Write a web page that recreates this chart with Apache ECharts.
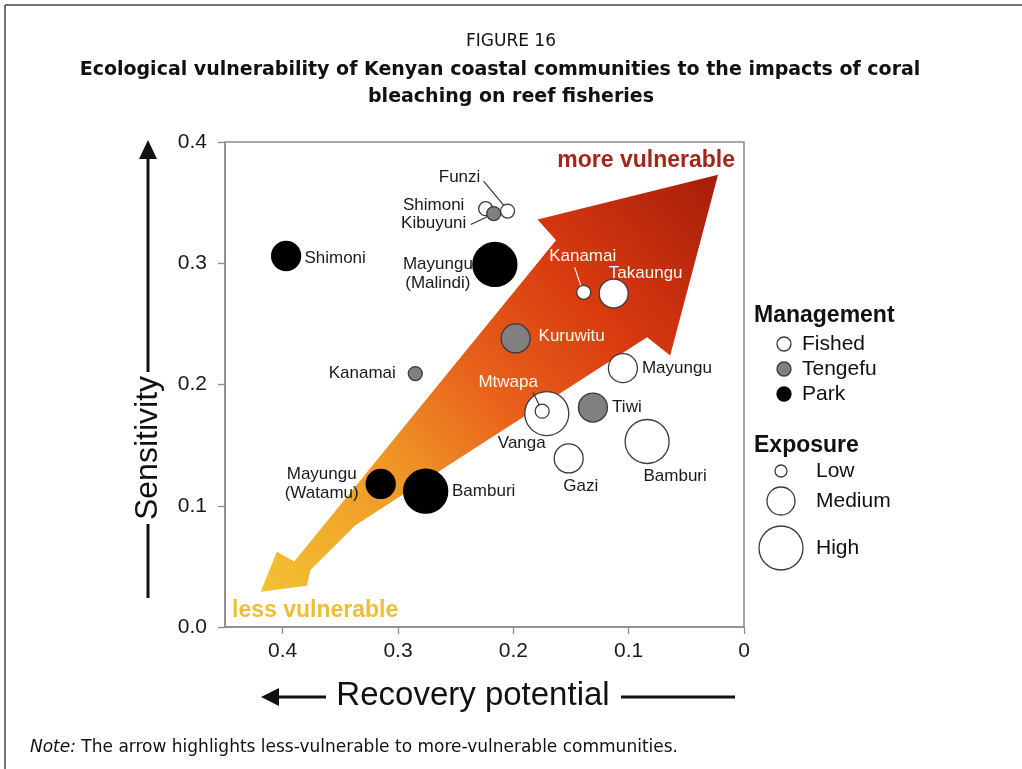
<!DOCTYPE html>
<html>
<head>
<meta charset="utf-8">
<title>Figure 16</title>
<script src="https://cdn.jsdelivr.net/npm/echarts@6/dist/echarts.min.js"></script>
<style>
  html, body { margin: 0; padding: 0; background: #fff; }
  #chart { width: 1022px; height: 769px; }
</style>
</head>
<body>
<div id="chart"></div>
<script>
// sites
const siteNames = ["Shimoni", "Mayungu\n(Malindi)", "Shimoni", "Kibuyuni", "Funzi", "Kanamai", "Takaungu",
  "Kuruwitu", "Kanamai", "Mayungu", "Vanga", "Mtwapa", "Tiwi", "Gazi", "Bamburi", "Bamburi", "Mayungu\n(Watamu)"];
const recovery = [0.397, 0.216, 0.224, 0.217, 0.205, 0.139, 0.113, 0.198, 0.285, 0.105, 0.171, 0.175, 0.131, 0.152, 0.084, 0.276, 0.315];
const sensitivity = [0.306, 0.299, 0.345, 0.341, 0.343, 0.276, 0.275, 0.238, 0.209, 0.2135, 0.176, 0.178, 0.181, 0.139, 0.153, 0.112, 0.118];
const management = ["Park", "Park", "Fished", "Tengefu", "Fished", "Fished", "Fished", "Tengefu", "Tengefu", "Fished",
  "Fished", "Fished", "Tengefu", "Fished", "Fished", "Park", "Park"];
const exposure = ["Medium", "High", "Low", "Low", "Low", "Low", "Medium", "Medium", "Low", "Medium",
  "High", "Low", "Medium", "Medium", "High", "High", "Medium"];

const xTicks = [0.4, 0.3, 0.2, 0.1, 0];

// arrow outline in data units (recovery, sensitivity)
const arrowShape = [
  [0.419, 0.029], [0.405, 0.062], [0.390, 0.054], [0.163, 0.319], [0.179, 0.336],
  [0.0225, 0.373], [0.064, 0.224], [0.084, 0.239], [0.337, 0.084], [0.376, 0.047], [0.379, 0.034]
];

// label placement (pixel offset of label centre from point centre)
const labelOffsets = [[49, 2], [-57, 9], [-52, -3], [-60, 10], [-48, -34], [-1, -36], [32, -20],
  [56, -2], [-53, 0], [54, 0], [-25, 30], [-34, -29], [34, 0], [12, 28], [28, 35], [58, 0], [-59, 0]];
const whiteLabels = [5, 6, 7, 11];
// leader lines: [site index, from offset, to offset, colour]
const leaders = [
  [4, [-24, -30], [-4, -6], "#333"],
  [3, [-23, 11], [-6, 3], "#333"],
  [5, [-9, -25], [-3, -7], "#fff"],
  [11, [-9, -19], [-3, -6], "#333"]
];

const sizeByExposure = { Low: 14, Medium: 29, High: 44 };
const fillByManagement = { Fished: "#ffffff", Tengefu: "#808080", Park: "#000000" };

const FONT = "'Liberation Sans', Arial, sans-serif";
const TITLE_FONT = "'DejaVu Sans', 'Noto Sans', sans-serif";

const points = siteNames.map((name, i) => ({
  name: name,
  value: [recovery[i], sensitivity[i]],
  symbolSize: sizeByExposure[exposure[i]],
  itemStyle: {
    color: fillByManagement[management[i]],
    borderColor: management[i] === "Park" ? "#000" : "#3a3a3a",
    borderWidth: 1.3,
    opacity: 1,
  },
  label: {
    show: true,
    position: "inside",
    offset: labelOffsets[i],
    formatter: name,
    color: whiteLabels.includes(i) ? "#fff6ee" : "#1a1a1a",
    fontSize: 17,
    lineHeight: 19,
    fontFamily: FONT,
  },
}));

const chart = echarts.init(document.getElementById("chart"), null, { renderer: "canvas" });

chart.setOption({
  animation: false,
  backgroundColor: "#fff",
  textStyle: { fontFamily: FONT },
  grid: { left: 225, top: 142, width: 519, height: 485, show: true, borderColor: "#8c8c8c", borderWidth: 1.5,
    backgroundColor: "transparent", outerBoundsMode: "none" },
  xAxis: {
    type: "value", min: 0, max: 0.45, interval: 0.1, inverse: true,
    axisLine: { show: true, onZero: false, lineStyle: { color: "#8c8c8c", width: 1.5 } },
    axisTick: { show: true, length: 7, lineStyle: { color: "#8c8c8c", width: 1.3 },
      customValues: xTicks },
    axisLabel: { color: "#1a1a1a", fontSize: 21, margin: 14, fontFamily: FONT,
      customValues: xTicks, formatter: v => (v === 0 ? "0" : v.toFixed(1)) },
    splitLine: { show: false },
  },
  yAxis: {
    type: "value", min: 0, max: 0.4, interval: 0.1,
    axisLine: { show: true, onZero: false, lineStyle: { color: "#8c8c8c", width: 1.5 } },
    axisTick: { show: true, length: 7, lineStyle: { color: "#8c8c8c", width: 1.3 } },
    axisLabel: { color: "#1a1a1a", fontSize: 21, margin: 18, fontFamily: FONT,
      formatter: v => v.toFixed(1) },
    splitLine: { show: false },
  },
  series: [
    {
      type: "custom",
      name: "arrow",
      silent: true,
      z: 1,
      data: arrowShape,
      renderItem(params, api) {
        if (params.dataIndex !== 0) return null;
        const pts = arrowShape.map(p => api.coord(p));
        return {
          type: "polygon",
          shape: { points: pts },
          style: {
            fill: new echarts.graphic.LinearGradient(0, 1, 1, 0, [
              { offset: 0, color: "#f3c232" },
              { offset: 0.3, color: "#ef9527" },
              { offset: 0.5, color: "#e8601b" },
              { offset: 0.72, color: "#d7390f" },
              { offset: 1, color: "#a61d0b" },
            ]),
          },
        };
      },
    },
    {
      type: "scatter",
      name: "sites",
      z: 3,
      symbol: "circle",
      itemStyle: { opacity: 1 },
      emphasis: { disabled: true },
      data: points,
    },
  ],
});

// annotations
const g = [];
// frame
g.push({ type: "line", shape: { x1: 5, y1: 5, x2: 1022, y2: 5 }, style: { stroke: "#444", lineWidth: 1.5 } });
g.push({ type: "line", shape: { x1: 5, y1: 5, x2: 5, y2: 769 }, style: { stroke: "#444", lineWidth: 1.5 } });
// titles
g.push({ type: "text", x: 511, y: 42, style: { text: "FIGURE 16", font: "17px " + TITLE_FONT, fill: "#111",
  textAlign: "center", textVerticalAlign: "middle" } });
g.push({ type: "text", x: 500, y: 70, style: { text: "Ecological vulnerability of Kenyan coastal communities to the impacts of coral",
  font: "bold 19px " + TITLE_FONT, fill: "#111", textAlign: "center", textVerticalAlign: "middle" } });
g.push({ type: "text", x: 511, y: 97, style: { text: "bleaching on reef fisheries",
  font: "bold 19px " + TITLE_FONT, fill: "#111", textAlign: "center", textVerticalAlign: "middle" } });
// note
g.push({ type: "text", x: 30, y: 748, style: {
  text: "{i|Note:} The arrow highlights less-vulnerable to more-vulnerable communities.",
  font: "17px " + TITLE_FONT, fill: "#111", textVerticalAlign: "middle",
  rich: { i: { fontStyle: "italic", fontSize: 17, fontFamily: TITLE_FONT, fill: "#111" } } } });

// arrow captions
g.push({ type: "text", x: 735, y: 161, style: { text: "more vulnerable", font: "bold 23px " + FONT, fill: "#a4261b",
  textAlign: "right", textVerticalAlign: "middle" } });
g.push({ type: "text", x: 232, y: 611, style: { text: "less vulnerable", font: "bold 23px " + FONT, fill: "#efbd3a",
  textAlign: "left", textVerticalAlign: "middle" } });

// axis names with arrows
g.push({ type: "text", x: 148, y: 448, rotation: Math.PI / 2, style: { text: "Sensitivity", font: "32px " + FONT,
  fill: "#111", textAlign: "center", textVerticalAlign: "middle" } });
g.push({ type: "line", shape: { x1: 148, y1: 155, x2: 148, y2: 372 }, style: { stroke: "#111", lineWidth: 3 } });
g.push({ type: "line", shape: { x1: 148, y1: 524, x2: 148, y2: 598 }, style: { stroke: "#111", lineWidth: 3 } });
g.push({ type: "polygon", shape: { points: [[148, 140], [139, 159], [157, 159]] }, style: { fill: "#111" } });

g.push({ type: "text", x: 473, y: 696, style: { text: "Recovery potential", font: "33px " + FONT,
  fill: "#111", textAlign: "center", textVerticalAlign: "middle" } });
g.push({ type: "line", shape: { x1: 275, y1: 697, x2: 326, y2: 697 }, style: { stroke: "#111", lineWidth: 3 } });
g.push({ type: "line", shape: { x1: 621, y1: 697, x2: 735, y2: 697 }, style: { stroke: "#111", lineWidth: 3 } });
g.push({ type: "polygon", shape: { points: [[261, 697], [279, 688], [279, 706]] }, style: { fill: "#111" } });

// legend: management
g.push({ type: "text", x: 754, y: 316, style: { text: "Management", font: "bold 23px " + FONT, fill: "#111",
  textVerticalAlign: "middle" } });
[["Fished", 344], ["Tengefu", 369], ["Park", 394]].forEach(([lab, y]) => {
  g.push({ type: "circle", shape: { cx: 784, cy: y, r: 7 },
    style: { fill: fillByManagement[lab], stroke: lab === "Park" ? "#000" : "#3a3a3a", lineWidth: 1.3 } });
  g.push({ type: "text", x: 802, y: y, style: { text: lab, font: "21px " + FONT, fill: "#111", textVerticalAlign: "middle" } });
});
// legend: exposure
g.push({ type: "text", x: 754, y: 446, style: { text: "Exposure", font: "bold 23px " + FONT, fill: "#111",
  textVerticalAlign: "middle" } });
[["Low", 471, 6], ["Medium", 501, 14], ["High", 548, 22]].forEach(([lab, y, r]) => {
  g.push({ type: "circle", shape: { cx: 781, cy: y, r: r }, style: { fill: "#fff", stroke: "#3a3a3a", lineWidth: 1.3 } });
  g.push({ type: "text", x: 816, y: y, style: { text: lab, font: "21px " + FONT, fill: "#111", textVerticalAlign: "middle" } });
});

// leader lines from labels to small circles
leaders.forEach(([i, from, to, col]) => {
  const p = chart.convertToPixel({ gridIndex: 0 }, [recovery[i], sensitivity[i]]);
  g.push({ type: "line", z: 10, shape: { x1: p[0] + from[0], y1: p[1] + from[1], x2: p[0] + to[0], y2: p[1] + to[1] },
    style: { stroke: col, lineWidth: 1.2 } });
});

chart.setOption({ graphic: g });
</script>
</body>
</html>
